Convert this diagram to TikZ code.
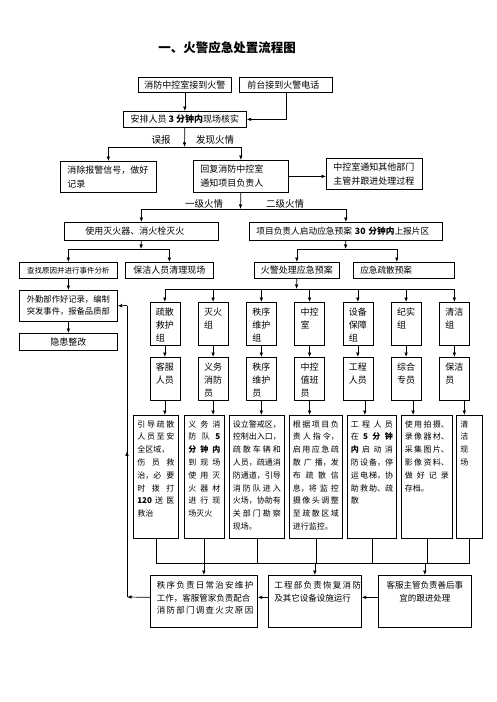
\documentclass[tikz,border=0pt]{standalone}
\usepackage{fontspec}
\setmainfont{Noto Sans CJK SC}
\usetikzlibrary{arrows.meta,decorations.markings}
\newcommand\jf[1]{\makebox[\linewidth][s]{#1}}
\newcommand\fsz[2]{\fontsize{#1}{#2}\selectfont}
\newcommand\mybox[7]{\node[box, minimum width=#4pt, minimum height=#5pt, #6] (#1) at (#2,#3) {#7};}
\newcommand\colbox[4]{\node[box, minimum width=30pt, minimum height=43pt] (#1) at (#2,#3) {\parbox[c][32pt][t]{18pt}{\fsz{9}{13}#4}};}
\newcommand\detbox[5]{\node[box, minimum width=#3pt, minimum height=123pt] (#1) at (#2,415) {\parbox[c][113pt][t]{#4pt}{\fsz{8}{12.8}#5}};}
\begin{document}
\begin{tikzpicture}[x=1pt,y=-1pt,line width=0.7pt,font=\fsz{9}{14},
  box/.style={draw, anchor=north west, inner sep=0pt, line width=0.7pt},
  arr/.style={-{Latex[length=4.5pt,width=3.6pt]}},
  midarr/.style={decoration={markings, mark=at position 0.5 with {\arrow{Latex[length=4.5pt,width=3.6pt]}}}, postaction={decorate}},
  lbl/.style={inner sep=0pt, font=\fsz{9.5}{12}}]
\fill[white] (0,0) rectangle (496,702);
\useasboundingbox (0,0) rectangle (496,702);

\node[font=\fsz{12.5}{15}\bfseries] (title) at (227,48) {一、火警应急处置流程图};

% top rows
\mybox{t1}{138}{77}{93}{15}{}{消防中控室接到火警}
\mybox{t2}{239}{77}{93}{15}{inner xsep=8pt,text width=77pt,align=left}{前台接到火警电话}
\mybox{v}{123}{111}{123}{16}{}{安排人员 \textbf{3 分钟内}现场核实}
\coordinate (j1) at (184.5,147);
\draw[arr] (t1.south) -- (v.north);
\draw[arr] (t2.south) |- (v.east);
\draw[arr] (v.south) -- (j1);
\node[lbl] (wb) at (161,140) {误报};
\node[lbl] (fx) at (215,140) {发现火情};

\mybox{f1}{60}{161}{96}{31}{inner xsep=7pt,text width=82pt,align=left}{消除报警信号，做好\\记录}
\mybox{f2}{193}{160}{95}{32}{inner xsep=7pt,text width=81pt,align=left}{回复消防中控室\\通知项目负责人}
\mybox{f3}{326}{158}{96}{31}{inner xsep=7pt,text width=82pt,align=left}{中控室通知其他部门\\主管并跟进处理过程}
\draw[arr] (j1) -| (f1.north);
\draw[arr] (j1) -| (f2.north);
\draw[arr] (f2.east) -- (f2.east -| f3.west);

\coordinate (j2) at (240.5,209);
\draw[arr] (f2.south) -- (j2);
\node[lbl] (yj) at (204,204) {一级火情};
\node[lbl] (ej) at (285,204) {二级火情};

\mybox{g1}{64}{222}{154}{18}{inner xsep=21pt,text width=112pt,align=left}{使用灭火器、消火栓灭火}
\mybox{g2}{249}{222}{193}{18}{inner xsep=7pt,text width=179pt,align=left,font=\fsz{8.7}{12}}{项目负责人启动应急预案 \textbf{30 分钟内}上报片区}
\draw[arr] (j2) -| (g1.north);
\draw[arr] (j2) -| (g2.north);

\coordinate (j3) at (141,249);
\draw[arr] (g1.south) -- (j3);
\mybox{h1}{19}{262}{98}{16}{font=\fsz{7.5}{9}}{查找原因并进行事件分析}
\mybox{h2}{125}{262}{88}{16}{}{保洁人员清理现场}
\draw[arr] (j3) -| (h1.north);
\draw[arr] (j3) -| (h2.north);

\coordinate (j4) at (345.5,249);
\draw[arr] (g2.south) -- (j4);
\mybox{h3}{254}{262}{85}{16}{}{火警处理应急预案}
\mybox{h4}{353}{262}{101}{16}{inner xsep=7pt,text width=87pt,align=left,font=\fsz{8.6}{12}}{应急疏散预案}
\draw[arr] (j4) -| (h3.north);
\draw[arr] (j4) -| ([xshift=-7pt]h4.north);

\mybox{i1}{19}{290}{98}{31}{inner xsep=7.5pt,text width=83pt,align=left,font=\fsz{8.3}{12}}{外勤部作好记录，编制\\突发事件，报备品质部}
\mybox{i2}{19}{333}{98}{17}{}{隐患整改}
\draw[arr] (h1.south) -- (i1.north);
\draw[arr] (i1.south) -- (i2.north);

% groups
\coordinate (j5) at (296.5,289);
\draw[arr] (h3.south) -- (j5);
\colbox{k1}{149.5}{302}{疏散\\救护\\组}
\colbox{k2}{197.75}{302}{灭火\\组}
\colbox{k3}{246}{302}{秩序\\维护\\组}
\colbox{k4}{294.25}{302}{中控\\室}
\colbox{k5}{342.5}{302}{设备\\保障\\组}
\colbox{k6}{390.75}{302}{纪实\\组}
\colbox{k7}{439}{302}{清洁\\组}
\colbox{l1}{149.5}{357}{客服\\人员}
\colbox{l2}{197.75}{357}{义务\\消防\\员}
\colbox{l3}{246}{357}{秩序\\维护\\员}
\colbox{l4}{294.25}{357}{中控\\值班\\员}
\colbox{l5}{342.5}{357}{工程\\人员}
\colbox{l6}{390.75}{357}{综合\\专员}
\colbox{l7}{439}{357}{保洁\\员}
\foreach \i in {1,...,7} {
  \draw[arr] (j5) -| (k\i.north);
  \draw[arr] (k\i.south) -- (l\i.north);
}

% detail boxes
\detbox{d1}{133}{45}{37}{\jf{引 导 疏 散}\\\jf{人 员 至 安}\\全区域，\\\jf{伤 员 救}\\\jf{治，必 要}\\\jf{时 拨 打}\\\jf{\textbf{120} 送 医}\\救治}
\detbox{d2}{184}{40}{32}{\jf{义 务 消}\\\jf{防 队 \textbf{5}}\\\jf{\textbf{分 钟 内}}\\\jf{到 现 场}\\\jf{使 用 灭}\\\jf{火 器 材}\\\jf{进 行 现}\\场灭火}
\detbox{d3}{229}{55}{48}{设立警戒区，\\控制出入口，\\\jf{疏 散 车 辆 和}\\人员，疏通消\\防通道，引导\\\jf{消 防 队 进 入}\\火场，协助有\\\jf{关 部 门 勘 察}\\现场。}
\detbox{d4}{289}{53}{46}{\jf{根 据 项 目 负}\\\jf{责 人 指 令，}\\\jf{启 用 应 急 疏}\\\jf{散 广 播，发}\\\jf{布 疏 散 信}\\\jf{息，将 监 控}\\\jf{摄 像 头 调 整}\\\jf{至 疏 散 区 域}\\进行监控。}
\detbox{d5}{347}{49}{42}{\jf{工 程 人 员}\\\jf{在 \textbf{5 分 钟}}\\\jf{\textbf{内} 启 动 消}\\\jf{防 设 备，停}\\\jf{运 电 梯，协}\\\jf{助 救 助、疏}\\散}
\detbox{d6}{401}{51}{44}{\jf{使 用 拍 摄、}\\\jf{录 像 器 材、}\\\jf{采 集 图 片、}\\\jf{影 像 资 料、}\\\jf{做 好 记 录}\\存档。}
\detbox{d7}{456}{26}{18}{清\\洁\\现\\场}
\draw[arr] (l1.south) -- (l1.south |- d1.north);
\draw[arr] (l2.south) -- (l2.south |- d2.north);
\draw[arr] (l3.south) -- (l3.south |- d3.north);
\draw[arr] (l4.south) -- (l4.south |- d4.north);
\draw[arr] ([xshift=7pt]l5.south) -- ([xshift=7pt]l5.south |- d5.north);
\draw[arr] ([xshift=7pt]l6.south) -- ([xshift=7pt]l6.south |- d6.north);
\draw[arr] ([xshift=10pt]l7.south) -- ([xshift=10pt]l7.south |- d7.north);

% bottom bus
\coordinate (bb) at (0,563);
\draw (d1.south) |- (d7.south |- bb) -- (d7.south);
\foreach \i in {2,...,6} { \draw (d\i.south) -- (d\i.south |- bb); }

\node[box, minimum width=107pt, minimum height=52pt] (b1) at (150,575) {\parbox[c][40pt][t]{94pt}{\fsz{8.5}{12.5}\jf{秩 序 负 责 日 常 治 安 维 护}\\工作，客服管家负责配合\\\jf{消 防 部 门 调 查 火 灾 原 因}}};
\node[box, minimum width=93pt, minimum height=52pt] (b2) at (268,575) {\parbox[c][40pt][t]{81pt}{\fsz{8.5}{12.5}\jf{工 程 部 负 责 恢 复 消 防}\\及其它设备设施运行}};
\node[box, minimum width=93pt, minimum height=52pt] (b3) at (378,575) {\parbox[c][40pt][t]{81pt}{\fsz{8.5}{12.5}\centering 客服主管负责善后事\\宜的跟进处理}};
\draw[arr] (b1.north |- bb) -- (b1.north);
\draw[arr] (b2.north |- bb) -- (b2.north);
\draw[arr] (b3.north |- bb) -- (b3.north);

\draw[arr] ([yshift=4pt]b3.west) -- ([yshift=4pt]b2.east);
\draw[arr] ([yshift=4pt]b2.west) -- ([yshift=4pt]b1.east);
\coordinate (r1) at (127,597);
\coordinate (r2) at (127,305.5);
\draw[arr] ([yshift=4pt]b1.west) -- (r1);
\draw[midarr] (r1) -- (r2);
\draw[arr] (r2) -- (i1.east);
\end{tikzpicture}
\end{document}
